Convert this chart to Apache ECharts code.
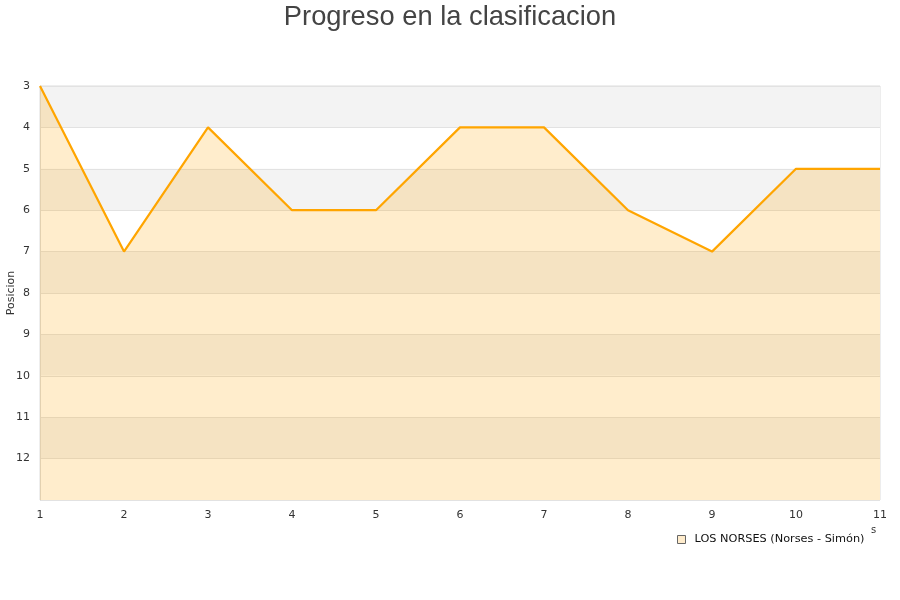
<!DOCTYPE html>
<html>
<head>
<meta charset="utf-8">
<script src="https://cdn.jsdelivr.net/npm/echarts@6/dist/echarts.min.js"></script>
<style>
  html,body{margin:0;padding:0;background:#fff}
  #chart{width:900px;height:600px}
</style>
</head>
<body>
<div id="chart"></div>
<script>
// jornadas y posiciones
const jornadas=[1,2,3,4,5,6,7,8,9,10,11]
const posiciones=[3,7,4,6,6,4,4,6,7,5,5]
const equipo='LOS NORSES (Norses - Simón)'

const myChart=echarts.init(document.querySelector('#chart'))
const option={
  animation:false,
  title:{
    text:'Progreso en la clasificacion',
    left:'center',
    top:-1,
    textStyle:{fontFamily:'Liberation Sans',fontSize:27.3,fontWeight:'normal',color:'#444'}
  },
  legend:{
    left:672,
    top:529,
    icon:'rect',
    itemWidth:8,
    itemHeight:8,
    textStyle:{fontFamily:'DejaVu Sans',fontSize:11.3,color:'#111',padding:[0,0,0,4]},
    data:[{name:equipo,itemStyle:{color:'#ffeccc',borderColor:'#666',borderWidth:1}}]
  },
  graphic:[{type:'text',left:871,top:525,style:{text:'s',fontFamily:'DejaVu Sans',fontSize:10,fill:'#333'}}],
  grid:{
    left:40,right:20,top:86,bottom:100,
    outerBoundsMode:'none',
    containLabel:false,
    show:true,borderColor:'#dcdcdc',borderWidth:1
  },
  xAxis:{
    type:'value',
    min:1,max:11,interval:1,
    axisLine:{show:false},
    axisTick:{show:false},
    splitLine:{show:false},
    axisLabel:{fontFamily:'DejaVu Sans',fontSize:11,color:'#333',margin:10}
  },
  yAxis:{
    type:'value',
    inverse:true,
    min:3,max:13,interval:1,
    name:'Posicion',
    nameLocation:'middle',
    nameGap:23,
    nameMoveOverlap:false,
    nameTextStyle:{fontFamily:'DejaVu Sans',fontSize:11,color:'#333'},
    axisLine:{show:true,lineStyle:{color:'#dcdcdc'}},
    axisTick:{show:false},
    axisLabel:{
      fontFamily:'DejaVu Sans',fontSize:11,color:'#333',margin:10,
      formatter:v=>v===13?'':v
    },
    splitLine:{show:true,lineStyle:{color:'#e2e2e2'}},
    splitArea:{show:true,areaStyle:{color:['#f3f3f3','#ffffff']}}
  },
  series:[{
    name:equipo,
    type:'line',
    data:jornadas.map((j,i)=>[j,posiciones[i]]),
    showSymbol:false,
    symbol:'none',
    lineStyle:{color:'#ffa500',width:2.2},
    itemStyle:{color:'#ffeccc'},
    areaStyle:{color:'rgba(255,165,0,0.2)',opacity:1,origin:'end'}
  }]
}
myChart.setOption(option)
</script>
</body>
</html>
